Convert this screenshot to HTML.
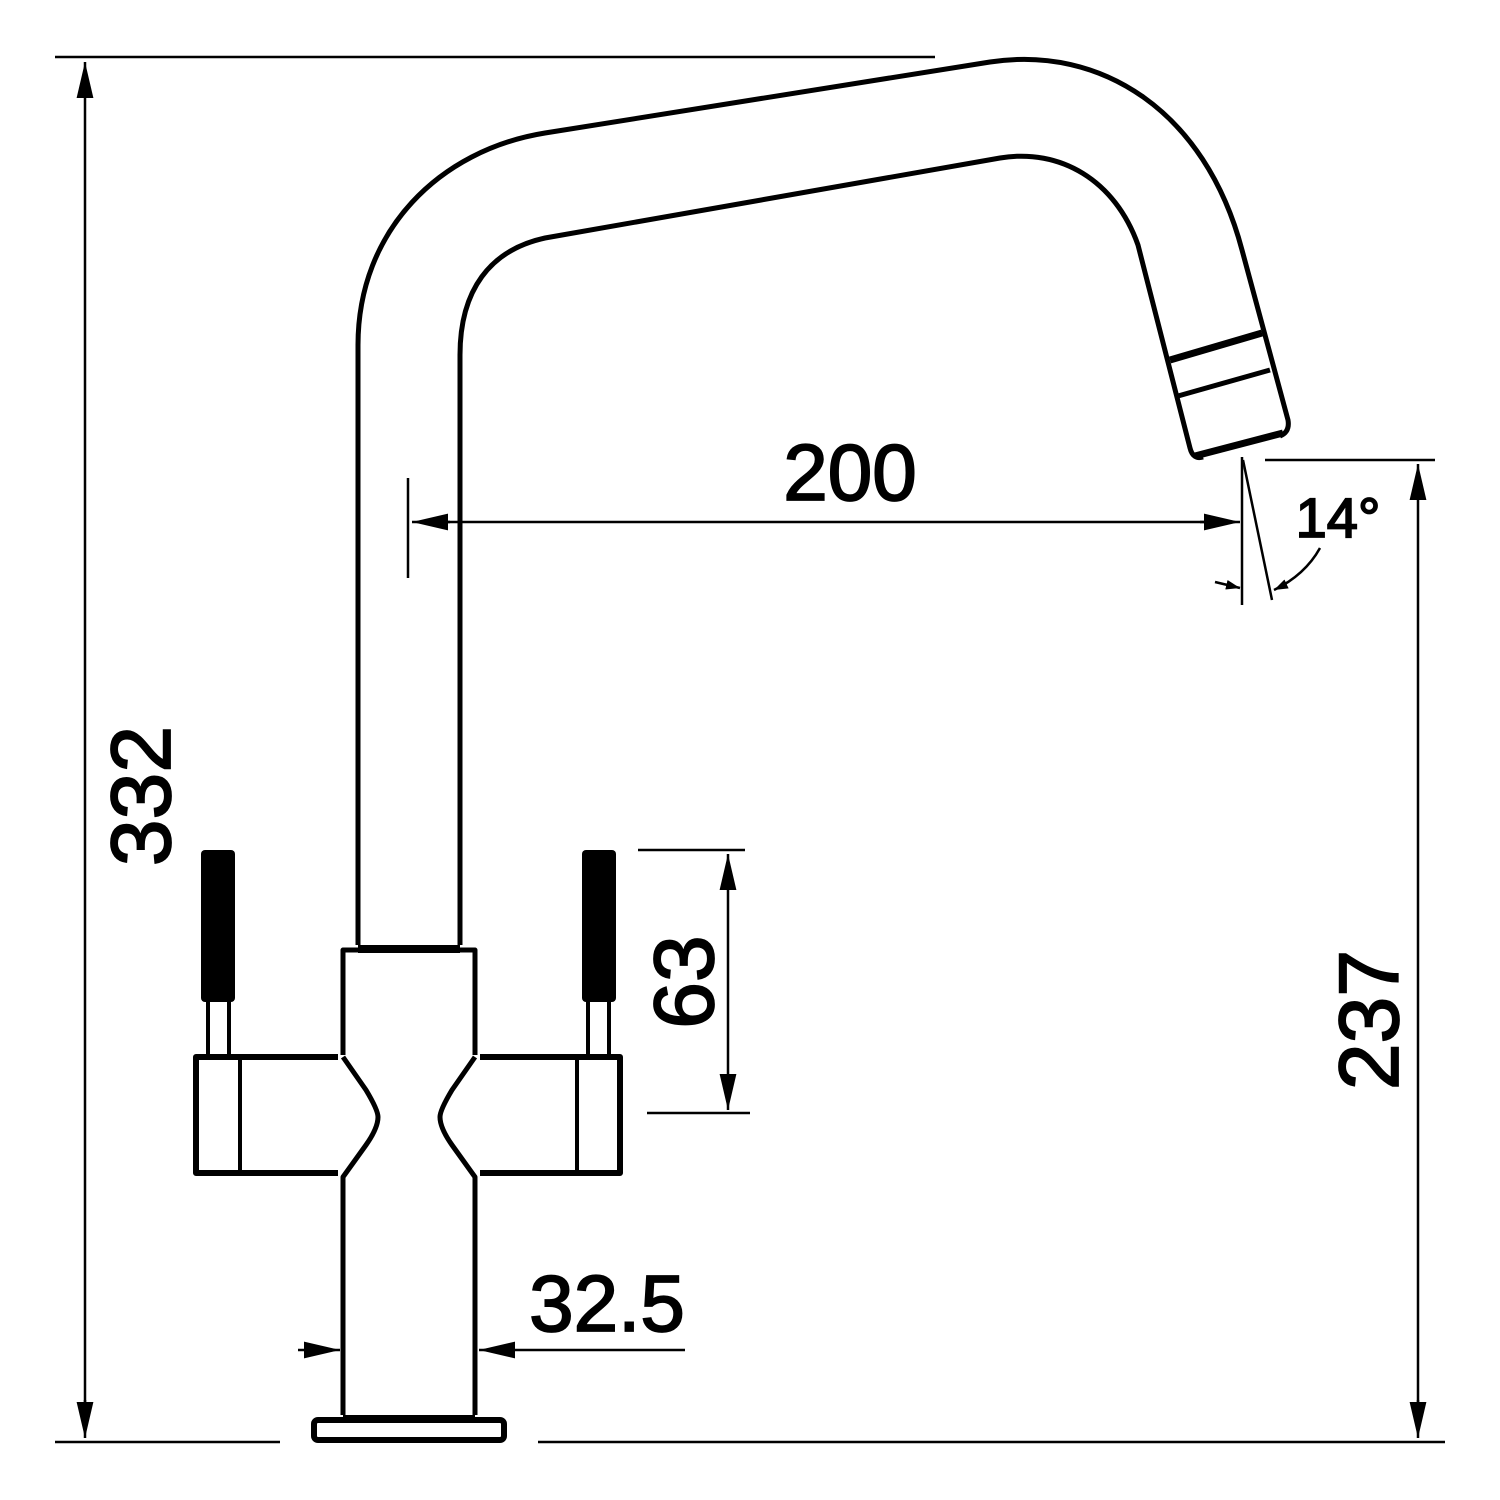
<!DOCTYPE html>
<html><head><meta charset="utf-8"><style>html,body{margin:0;padding:0;background:#fff}svg{display:block}</style></head>
<body>
<svg width="1500" height="1500" viewBox="0 0 1500 1500" xmlns="http://www.w3.org/2000/svg">
<defs>
<marker id="a" viewBox="0 0 10 10" refX="10" refY="5" markerWidth="14" markerHeight="14" markerUnits="userSpaceOnUse" orient="auto"><path d="M0,1.5 L10,5 L0,8.5 z" fill="#000"/></marker>
<marker id="al" viewBox="0 0 10 10" refX="10" refY="5" markerWidth="36" markerHeight="28" markerUnits="userSpaceOnUse" orient="auto" preserveAspectRatio="none"><path d="M0,2 L10,5 L0,8 z" fill="#000"/></marker>
</defs>
<g fill="none" stroke="#000" stroke-width="5" stroke-linejoin="round">
<path d="M358,945 L358,345 C358,230 440,150 545,133 L990,62 C1100,45 1205,110 1242,250 L1288,420 Q1290,432 1280,436"/>
<path d="M460,945 L460,355 C460,290 490,250 545,238 L1000,158 C1060,148 1115,180 1138,245 L1190,448 Q1193,460 1203,457"/>
<path d="M1170,360 L1262,333" stroke-width="7"/>
<path d="M1178,396 L1270,370" stroke-width="5"/>
<path d="M1195,456 L1283,433" stroke-width="7"/>
<path d="M343,1055 L343,950 L475,950 L475,1055" stroke-width="5"/>
<path d="M358,949 L460,949" stroke-width="8"/>
<path d="M343,1057 L366,1090 Q378,1110 378,1117 Q378,1128 366,1145 L343,1177 L343,1415"/>
<path d="M475,1057 L452,1090 Q440,1110 440,1117 Q440,1128 452,1145 L475,1177 L475,1415"/>
<path d="M343,1418 L475,1418" stroke-width="6"/>
<rect x="314" y="1420" width="190" height="20" rx="4" stroke-width="6"/>
<path d="M338,1057 L196,1057 L196,1173 L338,1173" stroke-width="6"/>
<path d="M240,1057 L240,1173" stroke-width="4"/>
<path d="M480,1057 L620,1057 L620,1173 L480,1173" stroke-width="6"/>
<path d="M577,1057 L577,1173" stroke-width="4"/>
<rect x="201" y="850" width="34" height="152" rx="4" fill="#000" stroke="none"/>
<rect x="208" y="1000" width="21" height="57" stroke-width="4"/>
<rect x="582" y="850" width="34" height="152" rx="4" fill="#000" stroke="none"/>
<rect x="588" y="1000" width="21" height="57" stroke-width="4"/>
</g>
<g fill="none" stroke="#000" stroke-width="2.5">
<line x1="55" y1="57" x2="935" y2="57"/>
<line x1="55" y1="1442" x2="280" y2="1442"/>
<line x1="538" y1="1442" x2="1445" y2="1442"/>
<line x1="85" y1="90" x2="85" y2="62" marker-end="url(#al)"/>
<line x1="85" y1="1400" x2="85" y2="1438" marker-end="url(#al)"/>
<line x1="85" y1="80" x2="85" y2="1420"/>
<line x1="1265" y1="460" x2="1435" y2="460"/>
<line x1="1418" y1="1400" x2="1418" y2="1438" marker-end="url(#al)"/>
<line x1="1418" y1="500" x2="1418" y2="464" marker-end="url(#al)"/>
<line x1="1418" y1="480" x2="1418" y2="1420"/>
<line x1="408" y1="478" x2="408" y2="578"/>
<line x1="450" y1="522" x2="412" y2="522" marker-end="url(#al)"/>
<line x1="1200" y1="522" x2="1240" y2="522" marker-end="url(#al)"/>
<line x1="430" y1="522" x2="1220" y2="522"/>
<line x1="1242" y1="457" x2="1242" y2="605"/>
<line x1="1243" y1="460" x2="1272" y2="600"/>
<line x1="1215" y1="582" x2="1240" y2="588" marker-end="url(#a)"/>
<path d="M1320,548 Q1305,575 1274,590" marker-end="url(#a)"/>
<line x1="638" y1="850" x2="745" y2="850"/>
<line x1="647" y1="1113" x2="750" y2="1113"/>
<line x1="728" y1="890" x2="728" y2="854" marker-end="url(#al)"/>
<line x1="728" y1="1075" x2="728" y2="1110" marker-end="url(#al)"/>
<line x1="728" y1="870" x2="728" y2="1090"/>
<line x1="298" y1="1350" x2="340" y2="1350" marker-end="url(#al)"/>
<line x1="685" y1="1350" x2="479" y2="1350" marker-end="url(#al)"/>
</g>
<g font-family="Liberation Sans, sans-serif" fill="#000" stroke="#000" stroke-width="1.8" text-anchor="middle">
<text x="850" y="500" font-size="80">200</text>
<text x="1338" y="537" font-size="56">14°</text>
<text x="607" y="1331" font-size="80">32.5</text>
<text transform="translate(170,796) rotate(-90)" font-size="84">332</text>
<text transform="translate(713,982) rotate(-90)" font-size="84">63</text>
<text transform="translate(1398,1020) rotate(-90)" font-size="84">237</text>
</g>
</svg>
</body></html>
